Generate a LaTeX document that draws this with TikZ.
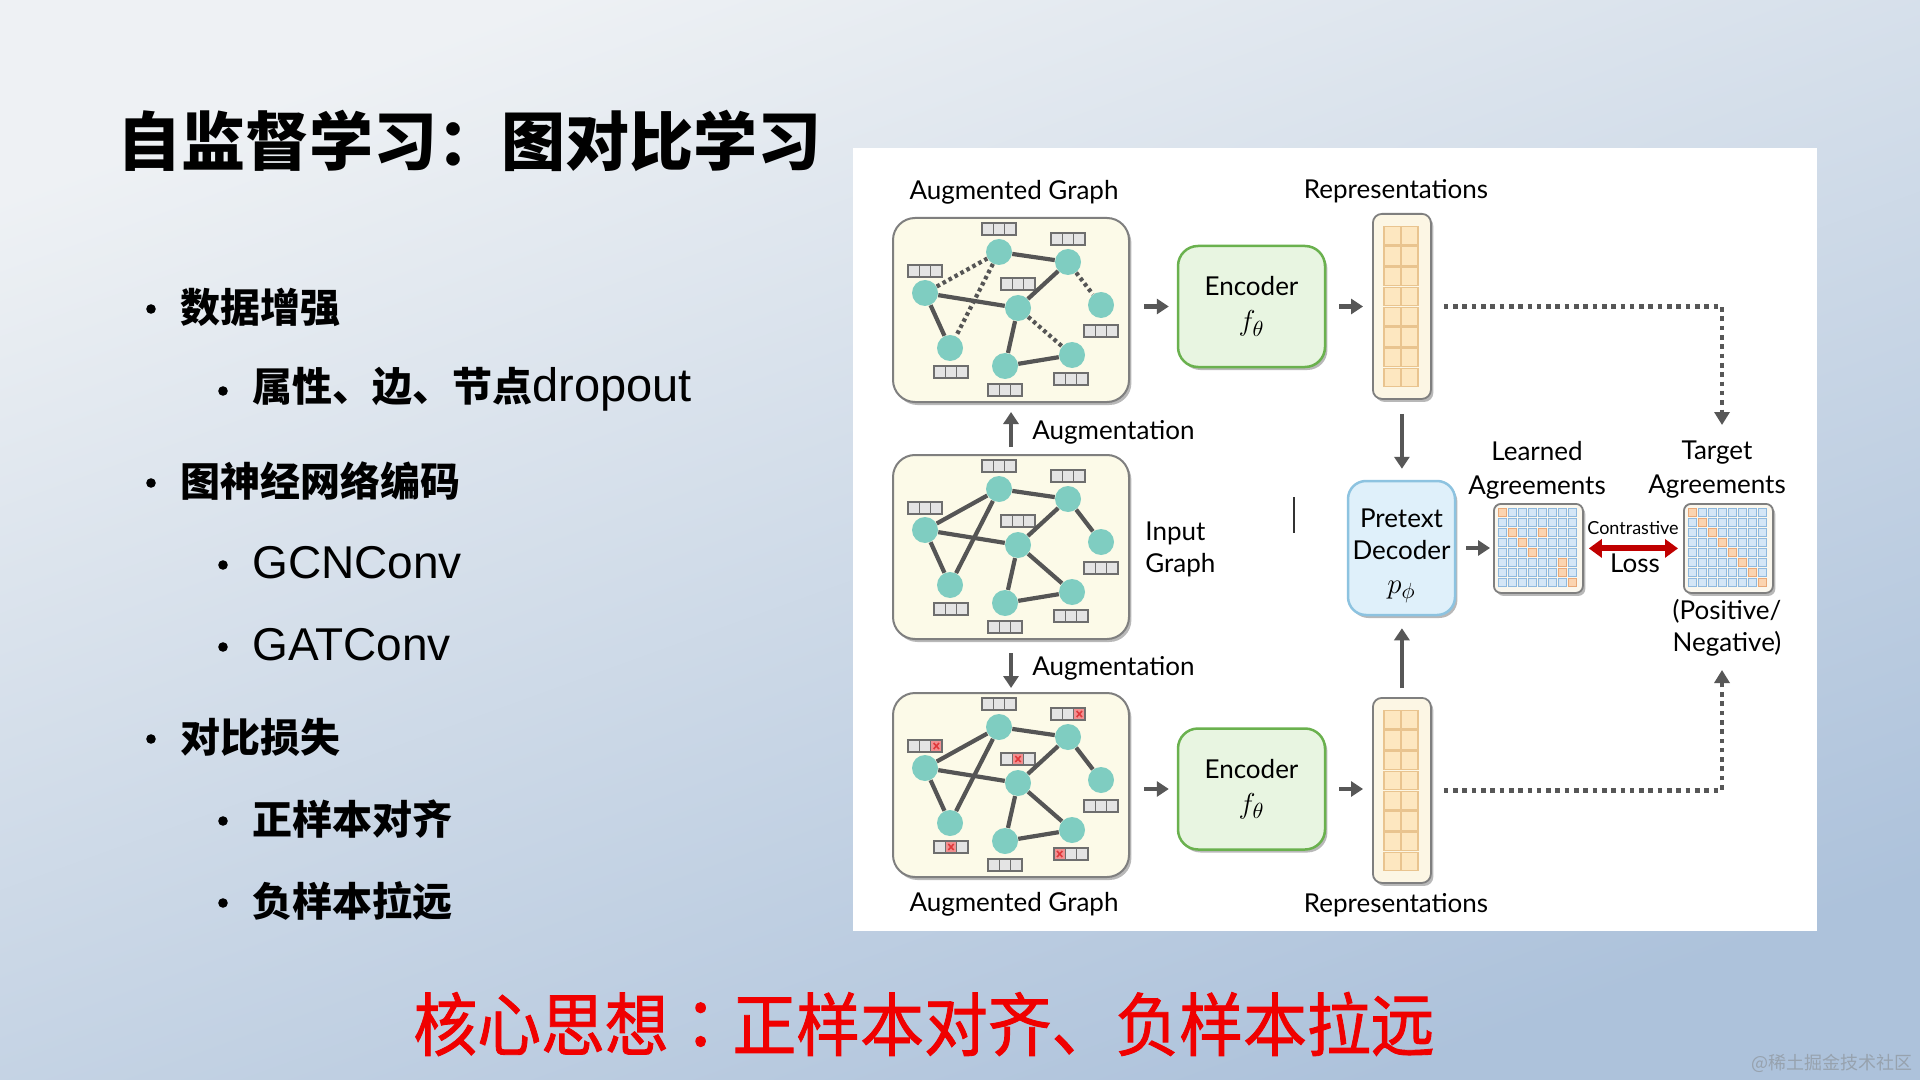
\documentclass[tikz,border=0pt]{standalone}
\usepackage{fontspec}
\setmainfont{Lato}
\newfontfamily\cjk{Noto Sans CJK SC}
\newfontfamily\cjkred[FakeBold=1.3]{Noto Sans CJK SC}
\newfontfamily\cjktc[FakeBold=1.3]{Noto Sans CJK TC}
\newfontfamily\lat{Liberation Sans}
\newfontfamily\dg{Lato}
\usetikzlibrary{arrows.meta,shadows,calc}

\definecolor{bgtop}{HTML}{EEF1F4}
\definecolor{bgmid}{HTML}{D6E0EB}
\definecolor{bgbot}{HTML}{ADC2DB}
\definecolor{cgraph}{HTML}{FCFAE8}
\definecolor{cborder}{HTML}{7F7F7F}
\definecolor{cteal}{HTML}{7FCDC1}
\definecolor{cedge}{HTML}{555555}
\definecolor{ccell}{HTML}{E4E4E4}
\definecolor{ccellb}{HTML}{6E6E6E}
\definecolor{cmask}{HTML}{F29090}
\definecolor{cmaskx}{HTML}{E0393B}
\definecolor{cenc}{HTML}{E8F5E1}
\definecolor{cencb}{HTML}{6AB14E}
\definecolor{crep}{HTML}{FCF6E4}
\definecolor{crepcell}{HTML}{FDE7C0}
\definecolor{crepcellb}{HTML}{E9C48F}
\definecolor{cdec}{HTML}{DFF0FA}
\definecolor{cdecb}{HTML}{8DC3E0}
\definecolor{cmat}{HTML}{FAF7EE}
\definecolor{cmcell}{HTML}{D4E6F6}
\definecolor{cmcellb}{HTML}{8FB9DE}
\definecolor{cocell}{HTML}{FBD4B0}
\definecolor{cocellb}{HTML}{E8A878}
\definecolor{carr}{HTML}{575757}
\definecolor{closs}{HTML}{C00000}
\definecolor{ccore}{HTML}{F00000}
\definecolor{cwm}{HTML}{97A2AE}

\newcommand{\featbox}[3]{%
  \coordinate (#1) at (#2,{#3});
  \foreach \k in {0,1,2}{\draw[featcell] ({#2-17+\k*11.333},{#3-6}) rectangle ++(11.333,12);}%
}
\newcommand{\maskcell}[2]{%
  \draw[maskcell] ($(#1)+({-17+(#2-1)*11.333},-6)$) rectangle ++(11.333,12);
  \draw[maskx] ($(#1)+({-17+(#2-1)*11.333+3},-3)$) -- ++(5.333,6);
  \draw[maskx] ($(#1)+({-17+(#2-1)*11.333+3},3)$) -- ++(5.333,-6);
}
\newcommand{\graphat}[2]{%
  \node[gbox, anchor=north west] (#1) at (893,#2) {};
  \node[gnode] (#1n1) at (999,{#2+34}) {};
  \node[gnode] (#1n2) at (1068,{#2+44}) {};
  \node[gnode] (#1n3) at (925,{#2+75}) {};
  \node[gnode] (#1n4) at (1018,{#2+90}) {};
  \node[gnode] (#1n5) at (1101,{#2+87}) {};
  \node[gnode] (#1n6) at (950,{#2+130}) {};
  \node[gnode] (#1n7) at (1005,{#2+148}) {};
  \node[gnode] (#1n8) at (1072,{#2+137}) {};
  \featbox{#1f1}{999}{#2+11}
  \featbox{#1f2}{1068}{#2+21}
  \featbox{#1f3}{925}{#2+53}
  \featbox{#1f4}{1018}{#2+66}
  \featbox{#1f5}{1101}{#2+113}
  \featbox{#1f6}{951}{#2+154}
  \featbox{#1f7}{1005}{#2+172}
  \featbox{#1f8}{1071}{#2+161}
}
\newcommand{\repcol}[2]{%
  \node[repbox, anchor=north west] (#1) at (1372,#2) {};
  \foreach \r in {0,...,7}{\foreach \c in {0,1}{%
    \draw[repcell] ({1384+\c*17},{#2+13.5+\r*20.25}) rectangle ++(17,18.5);}}%
}
\newcommand{\agmat}[4]{%
  \node[matbox, anchor=north west] (#1) at (#2,#3) {};
  \foreach \r in {0,...,7}{\foreach \c in {0,...,7}{%
    \draw[mcell] ({#2+5.5+\c*10},{#3+5.5+\r*10}) rectangle ++(8,8);}}%
  \foreach \r/\c in {#4}{\draw[ocell] ({#2+5.5+\c*10},{#3+5.5+\r*10}) rectangle ++(8,8);}%
}
\newcommand{\mth}[1]{{\fontsize{15}{15}\selectfont$#1$}}

\begin{document}
\begin{tikzpicture}[x=0.5pt,y=-0.5pt,
  shadowed/.style={drop shadow={shadow xshift=1.2pt, shadow yshift=-1.5pt, fill=black, opacity=0.28}},
  gbox/.style={draw=cborder, line width=1pt, fill=cgraph, rounded corners=11pt, minimum width=118pt, minimum height=92pt, inner sep=0pt, outer sep=0pt, shadowed},
  gnode/.style={circle, fill=cteal, minimum size=13pt, inner sep=0pt},
  gedge/.style={draw=cedge, line width=2.1pt},
  gdot/.style={draw=cedge, line width=2.1pt, dash pattern=on 1.8pt off 1.6pt},
  featcell/.style={fill=ccell, draw=ccellb, line width=0.75pt},
  maskcell/.style={fill=cmask, draw=ccellb, line width=0.75pt},
  maskx/.style={draw=cmaskx, line width=0.8pt},
  encbox/.style={draw=cencb, line width=1.25pt, fill=cenc, rounded corners=10pt, minimum width=73.5pt, minimum height=60.5pt, inner sep=0pt, align=center, font=\dg\fontsize{13}{17.5}\selectfont, shadowed},
  repbox/.style={draw=cborder, line width=0.9pt, fill=crep, rounded corners=4.5pt, minimum width=29pt, minimum height=92.5pt, inner sep=0pt, shadowed},
  repcell/.style={fill=crepcell, draw=crepcellb, line width=0.7pt},
  decbox/.style={draw=cdecb, line width=1.25pt, fill=cdec, rounded corners=9pt, minimum width=53.5pt, minimum height=67pt, inner sep=0pt, shadowed},
  matbox/.style={draw=cborder, line width=0.9pt, fill=cmat, rounded corners=3.5pt, minimum size=44.5pt, inner sep=0pt, shadowed},
  mcell/.style={fill=cmcell, draw=cmcellb, line width=0.5pt},
  ocell/.style={fill=cocell, draw=cocellb, line width=0.5pt},
  lbl/.style={font=\dg\fontsize{13}{17}\selectfont, inner sep=0pt, align=center},
  arr/.style={draw=carr, line width=2.3pt, -{Triangle[length=6pt,width=7.5pt]}},
  dotarr/.style={draw=carr, line width=2.25pt, dash pattern=on 2.3pt off 2.35pt, -{Triangle[length=6.5pt,width=7.5pt]}},
  lossarr/.style={draw=closs, line width=3pt, {Triangle[length=6.5pt,width=9pt]}-{Triangle[length=6.5pt,width=9pt]}},
  bul/.style={circle, fill=black, minimum size=4.8pt, inner sep=0pt},
  lv1/.style={anchor=west, inner sep=0pt, font=\cjk\bfseries\fontsize{20}{24}\selectfont},
  lv2lat/.style={anchor=west, inner sep=0pt, font=\lat\fontsize{23}{26}\selectfont},
]
\useasboundingbox (0,0) rectangle (1920,1080);
\shade[top color=bgtop, middle color=bgmid, bottom color=bgbot, shading angle=20] (0,0) rectangle (1920,1080);

% ---------- left side text ----------
\node[anchor=west, inner sep=0pt, font=\cjk\bfseries\fontsize{32}{36}\selectfont] (title) at (117,141) {自监督学习：图对比学习};

\node[bul] (d1) at (151,309) {};
\node[lv1] (b1) at (180,307) {数据增强};
\node[bul] (d2) at (223,391) {};
\node[lv1] (b2) at (252,389) {属性、边、节点{\lat\mdseries\fontsize{23.5}{26}\selectfont dropout}};
\node[bul] (d3) at (151,483) {};
\node[lv1] (b3) at (180,481) {图神经网络编码};
\node[bul] (d4) at (223,565) {};
\node[lv2lat] (b4) at (252,563) {GCNConv};
\node[bul] (d5) at (223,647) {};
\node[lv2lat] (b5) at (252,645) {GATConv};
\node[bul] (d6) at (151,739) {};
\node[lv1] (b6) at (180,737) {对比损失};
\node[bul] (d7) at (223,821) {};
\node[lv1] (b7) at (252,819) {正样本对齐};
\node[bul] (d8) at (223,903) {};
\node[lv1] (b8) at (252,901) {负样本拉远};

\node[anchor=west, inner sep=0pt, text=ccore, font=\cjkred\fontsize{34.5}{40}\selectfont] (core) at (413,1024) {\scalebox{0.925}[1]{核心思想{\cjktc ：}正样本对齐、负样本拉远}};
\node[anchor=east, inner sep=0pt, text=cwm, font=\cjk\fontsize{9}{10}\selectfont] (wm) at (1913,1063) {@稀土掘金技术社区};

% ---------- diagram panel ----------
\fill[white] (853,148) rectangle (1817,931);

\graphat{ga}{218}
\graphat{gb}{455}
\graphat{gc}{693}

% top augmented graph edges
\draw[gedge] (gan1) -- (gan2);
\draw[gedge] (gan3) -- (gan4);
\draw[gedge] (gan4) -- (gan2);
\draw[gedge] (gan3) -- (gan6);
\draw[gedge] (gan4) -- (gan7);
\draw[gedge] (gan7) -- (gan8);
\draw[gdot] (gan3) -- (gan1);
\draw[gdot] (gan1) -- (gan6);
\draw[gdot] (gan2) -- (gan5);
\draw[gdot] (gan4) -- (gan8);
% input graph edges
\foreach \a/\b in {1/2,3/1,1/6,2/5,4/8,4/2,3/4,3/6,4/7,7/8}{\draw[gedge] (gbn\a) -- (gbn\b);}
% bottom augmented graph edges
\foreach \a/\b in {1/2,3/1,1/6,2/5,4/8,4/2,3/4,3/6,4/7,7/8}{\draw[gedge] (gcn\a) -- (gcn\b);}
% masked attributes
\maskcell{gcf2}{3}
\maskcell{gcf3}{3}
\maskcell{gcf4}{2}
\maskcell{gcf6}{2}
\maskcell{gcf8}{1}

% labels
\node[lbl] (lag1) at (1014,192) {Augmented Graph};
\node[lbl] (lag3) at (1014,904) {Augmented Graph};
\node[lbl] (lrep1) at (1396,191) {Representations};
\node[lbl] (lrep2) at (1396,905) {Representations};
\node[lbl, anchor=west] (laug1) at (1032,432) {Augmentation};
\node[lbl, anchor=west] (laug2) at (1032,668) {Augmentation};
\node[lbl, anchor=west, align=left, font=\dg\fontsize{13}{16}\selectfont] (linput) at (1145,549) {Input\\Graph};
\draw[line width=0.8pt, draw=black!80] (1294,497) -- (1294,533);

% encoders
\node[encbox] (enc1) at (1251.5,306.5) {Encoder\\\mth{f_\theta}};
\node[encbox] (enc2) at (1251.5,789) {Encoder\\\mth{f_\theta}};

% representations
\repcol{rep1}{213}
\repcol{rep2}{697}

% decoder
\node[decbox] (dec) at (1401.5,548) {};
\node[lbl, font=\dg\fontsize{13}{16}\selectfont] (dectext) at (1401.5,556) {Pretext\\Decoder\\[1pt]\mth{p_\phi}};

% agreement matrices
\agmat{mat1}{1493}{503}{0/0,2/1,2/4,3/2,4/3,5/6,6/6,7/7}
\agmat{mat2}{1683}{503}{0/0,1/1,2/2,3/3,4/4,5/5,6/6,7/7}
\node[lbl] (llearn) at (1537,470) {Learned\\Agreements};
\node[lbl] (ltarget) at (1717,470) {Target\\Agreements};
\node[lbl, font=\dg\fontsize{13}{16}\selectfont] (lposneg) at (1727,628) {(Positive/\\Negative)};
\node[lbl, font=\dg\fontsize{9}{10}\selectfont] (lcon) at (1633,528) {Contrastive};
\node[lbl] (lloss) at (1635,563) {Loss};

% connectors
\draw[arr, shorten <=7.5pt, shorten >=4pt] (ga.east |- enc1.west) -- (enc1.west);
\draw[arr, shorten <=7.5pt, shorten >=4pt] (gc.east |- enc2.west) -- (enc2.west);
\draw[arr, shorten <=6.5pt, shorten >=4.5pt] (enc1.east) -- (enc1.east -| rep1.west);
\draw[arr, shorten <=6.5pt, shorten >=4.5pt] (enc2.east) -- (enc2.east -| rep2.west);
\draw[arr, shorten <=4pt, shorten >=5pt] (gb.north) -- (ga.south);
\draw[arr, shorten <=7pt, shorten >=2.5pt] (gb.south) -- (gc.north);
\draw[arr, shorten <=7pt, shorten >=5.5pt] (rep1.south) -- (rep1.south |- dec.north);
\draw[arr, shorten <=4.5pt, shorten >=6pt] (rep2.north) -- (rep2.north |- dec.south);
\draw[arr, shorten <=5pt, shorten >=1.5pt] (dec.east) -- (dec.east -| mat1.west);
\draw[lossarr, shorten <=2.5pt, shorten >=2.5pt] (mat1.east) -- (mat2.west);

\coordinate (dtop) at (1722,425);
\coordinate (dbot) at (1722,670);
\draw[dotarr] ([xshift=6pt]rep1.east) -| (dtop);
\draw[dotarr] ([xshift=6pt]rep2.east) -| (dbot);
\end{tikzpicture}
\end{document}
